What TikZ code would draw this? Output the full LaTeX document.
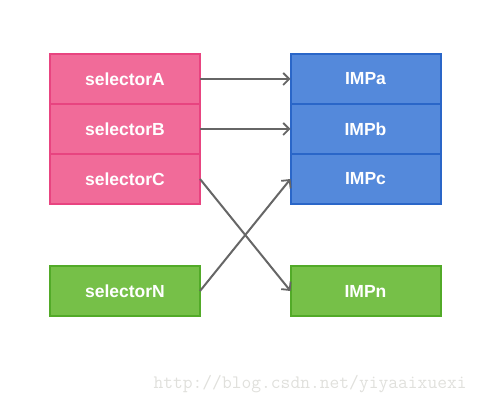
\documentclass[tikz,border=0pt]{standalone}
\usepackage{fontspec}
\setmainfont{Liberation Sans}
\usetikzlibrary{positioning,arrows.meta}

\definecolor{pinkfill}{RGB}{241,107,153}
\definecolor{pinkline}{RGB}{232,68,128}
\definecolor{bluefill}{RGB}{84,137,219}
\definecolor{blueline}{RGB}{42,102,200}
\definecolor{greenfill}{RGB}{118,192,72}
\definecolor{greenline}{RGB}{82,170,40}
\definecolor{arrowgray}{RGB}{102,102,102}

\tikzset{
    cell/.style={rectangle, line width=2pt, minimum width=150pt, minimum height=50pt,
        inner sep=0pt, outer sep=0pt, text=white, font=\fontsize{17.5}{20}\selectfont\bfseries},
    sel/.style={cell, draw=pinkline, fill=pinkfill},
    imp/.style={cell, draw=blueline, fill=bluefill},
    last/.style={cell, draw=greenline, fill=greenfill},
    link/.style={draw=arrowgray, line width=2pt, -{Straight Barb[length=6pt,width=12pt,line width=1.8pt]}}
}

\begin{document}
\begin{tikzpicture}[x=1pt,y=1pt]
    \useasboundingbox (0,0) rectangle (483,-403);
    % left column: selectors
    \node[sel] (selA) at (125,-79) {selectorA};
    \node[sel, below=0pt of selA] (selB) {selectorB};
    \node[sel, below=0pt of selB] (selC) {selectorC};
    \node[last] (selN) at (125,-291) {selectorN};
    % right column: implementations
    \node[imp] (impA) at (365.5,-79) {IMPa};
    \node[imp, below=0pt of impA] (impB) {IMPb};
    \node[imp, below=0pt of impB] (impC) {IMPc};
    \node[last] (impN) at (365.5,-291) {IMPn};
    % mapping
    \draw[link] (selA) -- (impA);
    \draw[link] (selB) -- (impB);
    \draw[link] (selC.east) -- (impN.west);
    \draw[link] (selN.east) -- (impC.west);
    \node[text={rgb,255:red,224;green,224;blue,220}, font=\ttfamily\fontsize{19}{20}\selectfont,
        anchor=base west] (mark) at (150,-389) {http://blog.csdn.net/yiyaaixuexi};
\end{tikzpicture}
\end{document}
